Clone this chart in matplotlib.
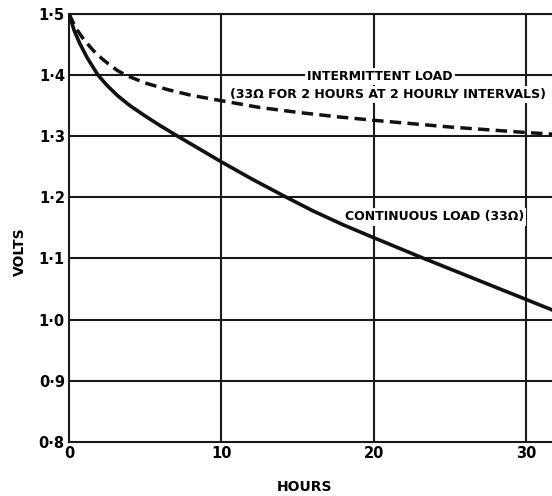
import matplotlib.pyplot as plt

hours_cont = [0, 0.15, 0.35, 0.7, 1.2, 1.9, 2.5, 3.2, 4, 5, 6, 7.2, 8.5, 10, 12, 14.2, 16,
              18, 20, 23.3, 26, 28, 30, 31.8]
volts_cont = [1.5, 1.488, 1.472, 1.452, 1.428, 1.4, 1.383, 1.366, 1.35, 1.333, 1.317, 1.299,
              1.28, 1.258, 1.23, 1.201, 1.178, 1.155, 1.134, 1.1, 1.073, 1.053, 1.033, 1.015]

hours_int = [0, 0.25, 0.5, 1, 1.6, 2.2, 2.7, 3.2, 3.8, 5, 6.5, 8, 10, 12.5, 15, 17.5, 20, 25,
             30, 32]
volts_int = [1.5, 1.487, 1.475, 1.457, 1.44, 1.426, 1.416, 1.407, 1.399, 1.387, 1.376, 1.367,
             1.358, 1.347, 1.339, 1.332, 1.326, 1.315, 1.306, 1.303]

x_ticks = [0, 10, 20, 30]
y_ticks = [0.8, 0.9, 1.0, 1.1, 1.2, 1.3, 1.4, 1.5]
y_labels = ["0·8", "0·9", "1·0", "1·1", "1·2", "1·3", "1·4", "1·5"]

plt.rcParams["font.family"] = ["DejaVu Sans Condensed", "DejaVu Sans"]
plt.rcParams["font.weight"] = "bold"

fig = plt.figure(figsize=(5.52, 4.96), dpi=100)
ax = fig.add_axes([0.125, 0.109, 0.875, 0.863])

for x in x_ticks[1:]:
    ax.axvline(x, color="#1a1a1a", lw=1.5, zorder=1)
for y in y_ticks[1:]:
    ax.axhline(y, color="#1a1a1a", lw=1.5, zorder=1)

ax.plot(hours_cont, volts_cont, color="#111111", lw=2.6, zorder=3, solid_joinstyle="round")
ax.plot(hours_int, volts_int, color="#111111", lw=2.5, ls=(0, (3.3, 1.8)), zorder=3)

box = dict(facecolor="white", edgecolor="none", pad=1.5)
ax.text(20.4, 1.397, "INTERMITTENT LOAD", ha="center", va="center", fontsize=9,
        bbox=box, zorder=2)
ax.text(31.3, 1.368, "(33Ω FOR 2 HOURS AT 2 HOURLY INTERVALS)", ha="right", va="center",
        fontsize=9, bbox=box, zorder=2)
ax.text(18.1, 1.168, "CONTINUOUS LOAD (33Ω)", ha="left", va="center", fontsize=9,
        bbox=box, zorder=2)

ax.set_xlim(0, 31.7)
ax.set_ylim(0.8, 1.5)
ax.set_xticks(x_ticks)
ax.set_xticklabels([str(t) for t in x_ticks])
ax.set_yticks(y_ticks)
ax.set_yticklabels(y_labels)
ax.tick_params(length=0, labelsize=10.5, pad=3)

for side in ["left", "bottom", "top"]:
    ax.spines[side].set_linewidth(1.5)
    ax.spines[side].set_color("#1a1a1a")
ax.spines["right"].set_visible(False)

fig.text(305 / 552, 1 - 487 / 496, "HOURS", ha="center", va="center", fontsize=10)
fig.text(20 / 552, 1 - 252 / 496, "VOLTS", ha="center", va="center", fontsize=10,
         rotation=90)

fig.savefig("out.png", dpi=100)
